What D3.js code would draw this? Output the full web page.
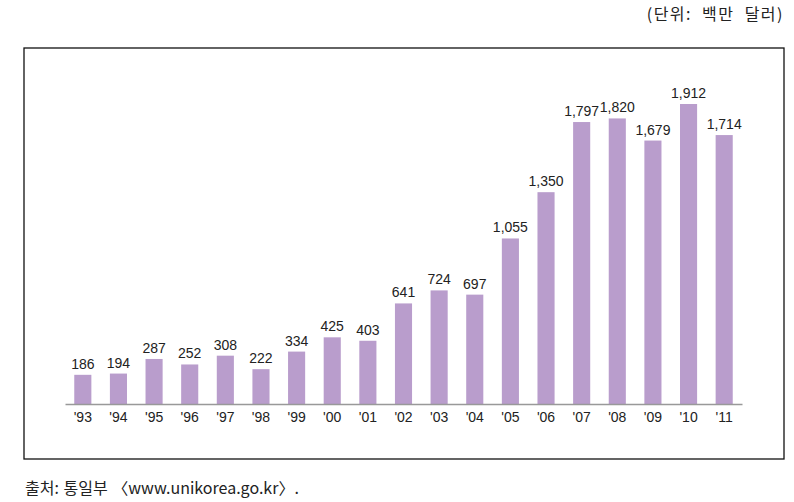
<!DOCTYPE html>
<html><head><meta charset="utf-8">
<script src="https://cdn.jsdelivr.net/npm/d3@7"></script>
<style>body{margin:0;background:#fff}svg{display:block}</style>
</head><body>
<svg id="c" width="794" height="502"></svg>
<script>
const years = ["'93","'94","'95","'96","'97","'98","'99","'00","'01","'02","'03","'04","'05","'06","'07","'08","'09","'10","'11"];
const values = [186,194,287,252,308,222,334,425,403,641,724,697,1055,1350,1797,1820,1679,1912,1714];
const unitLabel = "(단위: 백만 달러)";
const sourceLabel = "출처: 통일부 〈www.unikorea.go.kr〉.";

const svg = d3.select("#c");
const fmt = d3.format(",");
const x = d3.scaleBand().domain(years).range([65, 742]).paddingInner(0.52).paddingOuter(0.26);
const y = d3.scaleLinear().domain([0, 1912]).range([404, 104]);

svg.append("rect").attr("x",24).attr("y",48).attr("width",760).attr("height",411)
  .attr("fill","none").attr("stroke","#111").attr("stroke-width",1.3);

svg.append("text").attr("x",784).attr("y",20).attr("text-anchor","end")
  .attr("font-family","'Noto Sans CJK KR', sans-serif").attr("font-size",16).attr("fill","#222")
  .attr("letter-spacing",1.5).attr("word-spacing",5)
  .text(unitLabel);

svg.append("text").attr("x",25).attr("y",494)
  .attr("font-family","'Noto Sans CJK KR', sans-serif").attr("font-size",16).attr("fill","#222")
  .attr("letter-spacing",0).attr("word-spacing",1)
  .text(sourceLabel);

svg.selectAll("rect.bar").data(values).join("rect").attr("class","bar")
  .attr("x",(d,i)=>x(years[i])).attr("width",x.bandwidth())
  .attr("y",d=>y(d)).attr("height",d=>y(0)-y(d)).attr("fill","#b99dcc");

svg.selectAll("text.val").data(values).join("text").attr("class","val")
  .attr("x",(d,i)=>x(years[i])+x.bandwidth()/2).attr("y",d=>y(d)-6)
  .attr("text-anchor","middle").attr("font-family","'Liberation Sans', Arial, sans-serif")
  .attr("font-size",14).attr("fill","#222").text(d=>fmt(d));

const axis = d3.axisBottom(x).tickSize(0).tickPadding(8);
const g = svg.append("g").attr("transform","translate(0,404)").call(axis);
g.select(".domain").attr("stroke","#999").attr("stroke-width",1.5);
g.selectAll("text").attr("font-family","'Liberation Sans', Arial, sans-serif").attr("font-size",14).attr("fill","#222").attr("dy","0.71em");
</script>
</body></html>
